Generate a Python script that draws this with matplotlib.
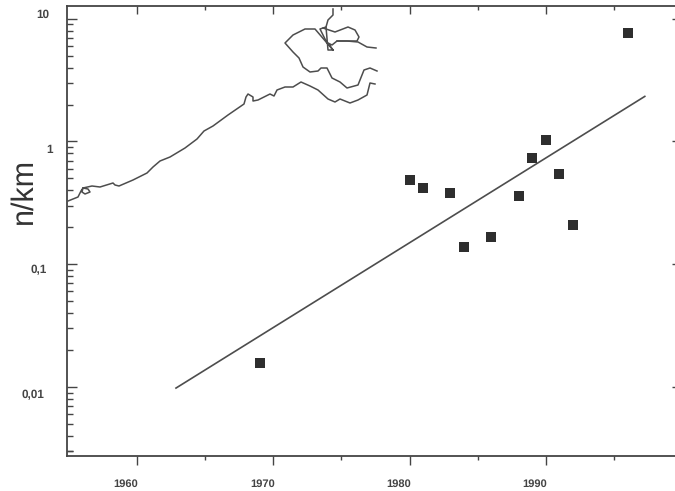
import matplotlib

matplotlib.use("Agg")
import matplotlib.pyplot as plt
from matplotlib.ticker import FixedLocator, NullFormatter

INK = "#444444"

years = [1969, 1980, 1981, 1983, 1984, 1986, 1988, 1989, 1990, 1991, 1992, 1996]
density = [0.0158, 0.49, 0.42, 0.377, 0.139, 0.168, 0.363, 0.74, 1.02, 0.54, 0.21, 7.6]

trend_years = [1962.86, 1997.27]
trend_density = [0.0098, 2.33]

x_major = [1960, 1970, 1980, 1990]
x_minor = [1965, 1975, 1985, 1995]
x_labels = ["1960", "1970", "1980", "1990"]
y_major = [0.01, 0.1, 1, 10]
y_labels = ["0,01", "0,1", "1", "10"]
# the scanned labels sit a bit off their ticks, offsets in pixels
y_label_x = [32.5, 39, 50, 42.5]
y_label_dy = [-8, -6, -8, 4]

# map inset in image pixels
coast_x = [68, 78, 81, 83, 88, 90, 85, 82, 83, 92, 100, 113, 115, 119, 133, 147, 153, 160, 170, 185,
           197, 204, 213, 228, 244, 246, 248, 253, 253, 258, 270, 274, 277, 285, 293, 301, 310, 318,
           328, 335, 340, 350, 358, 367, 370, 375]
coast_y = [201, 197, 191, 188, 189, 192, 194, 192, 188, 186, 187, 183, 185, 186, 180, 173, 167, 161,
           157, 148, 139, 131, 126, 115, 104, 97, 94, 97, 101, 100, 94, 96, 90, 87, 87, 82, 86, 90,
           99, 102, 99, 103, 100, 95, 83, 84]
north_x = [376, 367, 358, 347, 337, 332, 328, 333, 328, 326, 320, 327, 333]
north_y = [48, 47, 42, 41, 41, 45, 43, 50, 50, 27, 29, 43, 50]
stem_x = [333, 333, 328, 326]
stem_y = [9, 15, 20, 27]
island_x = [323, 335, 348, 355, 359, 357, 337]
island_y = [28, 32, 27, 30, 37, 41, 41]
south_x = [327, 315, 305, 293, 285, 293, 299, 303, 310, 318, 321, 327, 332, 340, 347, 358, 364, 370, 377]
south_y = [43, 29, 29, 35, 43, 52, 58, 67, 72, 71, 68, 68, 78, 82, 88, 85, 70, 68, 71]


def main() -> None:
    plt.rcParams["font.family"] = ["Liberation Sans", "DejaVu Sans"]
    plt.rcParams["text.hinting"] = "none"
    fig = plt.figure(figsize=(6.75, 4.91), dpi=100)
    ax = fig.add_axes([67 / 675, (491 - 456) / 491, (682 - 67) / 675, (456 - 6) / 491])
    ax.set_xlim(1954.86, 2000.0)
    ax.set_yscale("log")
    ax.set_ylim(0.00274, 12.7)

    ax.scatter(years, density, marker="s", s=50, color="#2e2e2e", linewidths=0, zorder=3)
    ax.plot(trend_years, trend_density, color="#4d4d4d", lw=1.2)

    ax.xaxis.set_major_locator(FixedLocator(x_major))
    ax.xaxis.set_minor_locator(FixedLocator(x_minor))
    ax.xaxis.set_major_formatter(NullFormatter())
    ax.xaxis.set_minor_formatter(NullFormatter())
    ax.yaxis.set_major_locator(FixedLocator(y_major))
    ax.yaxis.set_minor_locator(FixedLocator(
        [m * 10.0 ** e for e in (-3, -2, -1, 0) for m in range(2, 10)] + [0.003]
    ))
    ax.yaxis.set_major_formatter(NullFormatter())
    ax.yaxis.set_minor_formatter(NullFormatter())
    ax.tick_params(axis="x", which="major", direction="out", length=6.5, width=1, color=INK)
    ax.tick_params(axis="x", which="minor", direction="out", length=3, width=1, color=INK)
    ax.tick_params(axis="y", which="major", direction="in", length=7.5, width=1, color=INK, right=True)
    ax.tick_params(axis="y", which="minor", direction="in", length=4, width=1, color=INK, right=False)
    for spine in ax.spines.values():
        spine.set_color(INK)
        spine.set_linewidth(1.3)

    top = ax.secondary_xaxis("top")
    top.set_xticks(x_major, labels=[])
    top.set_xticks(x_minor, minor=True)
    top.tick_params(which="major", direction="in", length=5.5, width=1, color=INK)
    top.tick_params(which="minor", direction="in", length=3, width=1, color=INK)
    top.spines["top"].set_visible(False)

    # overlay in image pixels for the map and the hand placed labels
    over = fig.add_axes([0, 0, 1, 1])
    over.set_xlim(0, 675)
    over.set_ylim(491, 0)
    over.axis("off")
    over.patch.set_alpha(0)
    for xs, ys in [(coast_x, coast_y), (north_x, north_y), (stem_x, stem_y),
                   (island_x, island_y), (south_x, south_y)]:
        over.plot(xs, ys, color="#4d4d4d", lw=1.1, solid_joinstyle="round")

    for year, label in zip(x_major, x_labels):
        ax.annotate(label, xy=(year, 0), xycoords=ax.get_xaxis_transform(), xytext=(-11, -28),
                    textcoords="offset pixels", ha="center", va="center",
                    fontsize=8, fontweight="bold", color=INK)
    for value, label, px, dy in zip(y_major, y_labels, y_label_x, y_label_dy):
        ax.annotate(label, xy=(0, value), xycoords=ax.get_yaxis_transform(), xytext=(px - 67, dy),
                    textcoords="offset pixels", ha="center", va="center", annotation_clip=False,
                    fontsize=8.5, fontweight="bold", color=INK)
    fig.text(24 / 675, 1 - 191 / 491, "n/km", rotation=90, ha="center", va="center",
             fontsize=22, color="#333333")

    fig.savefig("out.png", dpi=100)
    plt.close(fig)


if __name__ == "__main__":
    main()
